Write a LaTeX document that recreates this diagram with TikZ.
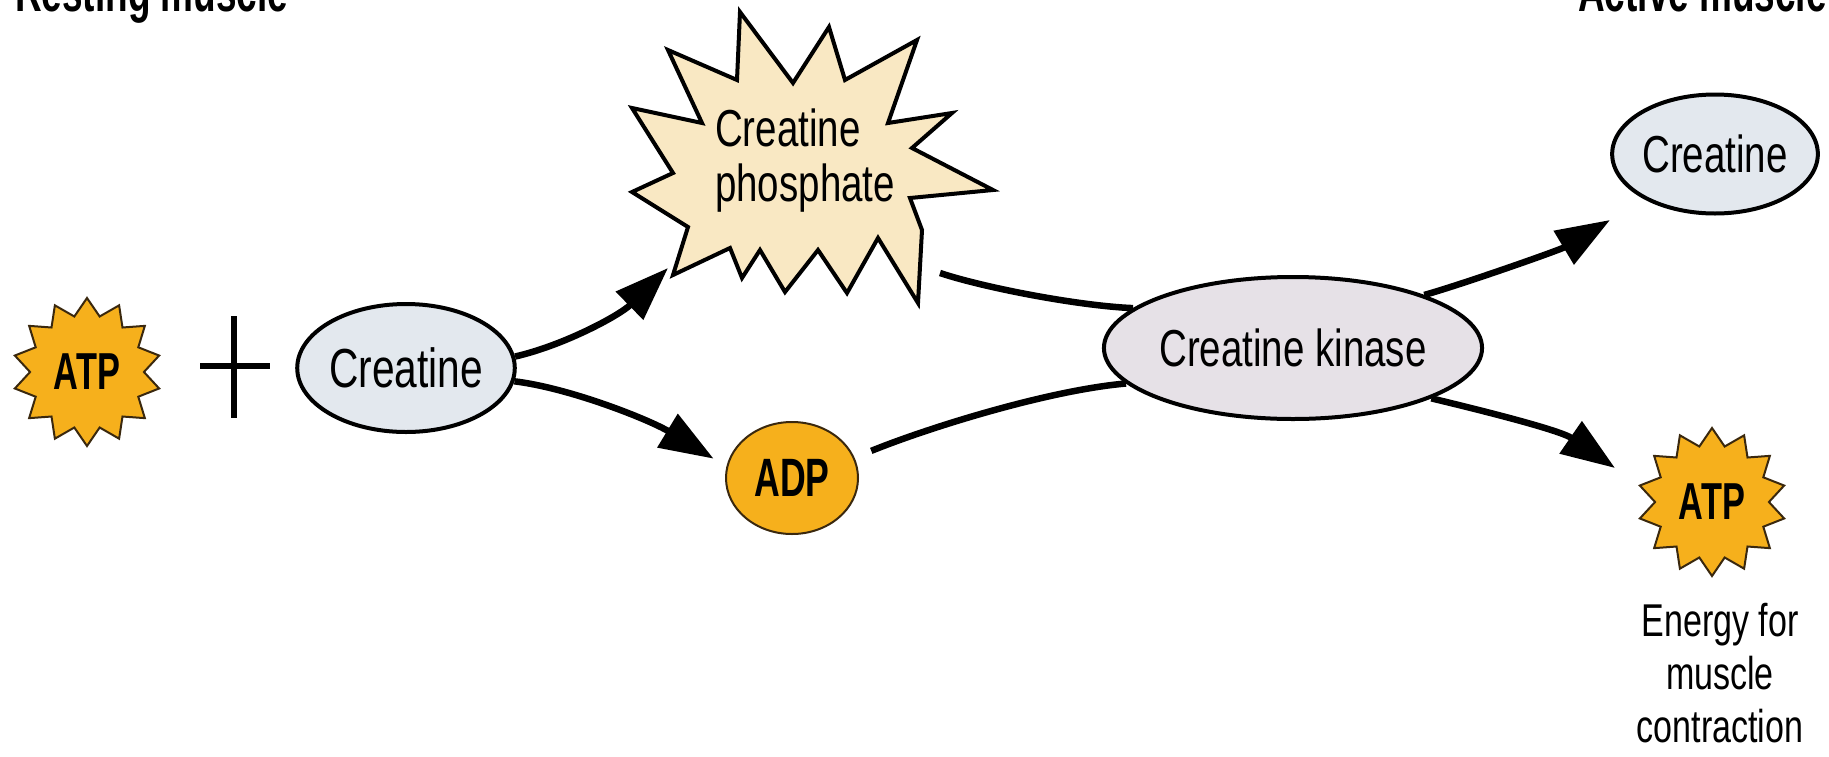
\documentclass[tikz,border=0pt]{standalone}
\usepackage{fontspec}
\usepackage{graphicx}
\setmainfont{Liberation Sans}[FakeStretch=0.74]
\newfontfamily\bfn{Liberation Sans}[FakeStretch=0.66]
\usetikzlibrary{arrows.meta,shapes.geometric}
\definecolor{creafill}{RGB}{227,232,238}
\definecolor{kinfill}{RGB}{230,225,231}
\definecolor{cpfill}{RGB}{249,232,195}
\definecolor{atpfill}{RGB}{246,176,28}
\definecolor{atpline}{RGB}{58,40,14}
\tikzset{
  conn/.style={line width=6.5pt, black},
  arr/.style={conn, -{Triangle[length=54pt,width=38pt]}},
  oval/.style={ellipse, draw, line width=4pt, inner sep=0pt},
  txt/.style={font=\fontsize{52}{56}\selectfont},
  boldtxt/.style={font=\bfn\bfseries\fontsize{54}{58}\selectfont},
  burst/.style={star, star points=14, star point ratio=1.3, minimum size=148pt,
    inner sep=0pt, draw=atpline, line width=2pt, fill=atpfill,
    font=\bfn\bfseries\fontsize{52}{56}\selectfont},
}
\begin{document}
\begin{tikzpicture}[x=1pt,y=-1pt]
\useasboundingbox (0,0) rectangle (1829,756);
\clip (0,0) rectangle (1829,756);
\fill[white] (0,0) rectangle (1829,756);

% titles (cut by the top edge)
\node[anchor=base west, inner sep=0pt, font=\bfn\bfseries\fontsize{56}{60}\selectfont] (rest) at (15,11) {Resting muscle};
\node[anchor=base west, inner sep=0pt, font=\bfn\bfseries\fontsize{56}{60}\selectfont] (act) at (1578,11) {Active muscle};

% creatine phosphate burst
\draw[line width=4pt, fill=cpfill, line join=miter]
  (668,50) -- (737,80) -- (740,12) -- (793,83) -- (829,27) -- (845,80) --
  (917,40) -- (888,123) -- (952,113) -- (912,148) -- (993,190) -- (910,198) --
  (922,230) -- (918,303) -- (878,238) -- (847,293) -- (818,250) -- (785,292) --
  (760,250) -- (742,278) -- (730,248) -- (673,275) -- (688,227) -- (632,192) --
  (673,173) -- (632,108) -- (702,123) -- cycle;
\node[txt, anchor=base west, inner sep=0pt] (cp1) at (715,146) {Creatine};
\node[txt, anchor=base west, inner sep=0pt] (cp2) at (715,201) {phosphate};

% nodes
\node[burst] (atpL) at (87,372) {ATP};
\draw[line width=5.5pt] (200,366) -- (270,366) (234,316) -- (234,418);
\node[oval, fill=creafill, minimum width=202pt, minimum height=128pt, font=\fontsize{55}{60}\selectfont] (creL) at (406,368) {Creatine};
\node[ellipse, draw=atpline, line width=2pt, fill=atpfill, minimum width=132pt, minimum height=112pt, inner sep=0pt, boldtxt] (adp) at (792,478) {ADP};
\node[oval, fill=kinfill, minimum width=318pt, minimum height=142pt, txt] (kin) at (1293,348) {Creatine kinase};
\node[oval, fill=creafill, minimum width=204pt, minimum height=119pt, txt] (creR) at (1715,154) {Creatine};
\node[burst] (atpR) at (1712,502) {ATP};
\node[align=center, anchor=north, inner sep=0pt, font=\fontsize{46}{53}\selectfont] (energy) at (1720,603) {Energy for\\muscle\\contraction};

% free ends
\coordinate (cpIn) at (668,268);
\coordinate (cpOut) at (940,273);
\coordinate (creRIn) at (1610,220);
\coordinate (atpRIn) at (1615,468);

% connectors
\draw[arr] (creL.6) .. controls (565,345) and (620,315) .. (cpIn);
\draw[arr, shorten >=15pt] (creL.-7) .. controls (570,388) and (650,420) .. (adp.170);
\draw[conn, shorten <=18pt] (adp.18) .. controls (930,427) and (1050,390) .. (kin.192);
\draw[conn] (cpOut) .. controls (985,288) and (1080,306) .. (kin.166);
\draw[arr] (kin.22) .. controls (1460,285) and (1560,250) .. (creRIn);
\draw[arr] (kin.-20) .. controls (1480,410) and (1560,430) .. (atpRIn);
\end{tikzpicture}
\end{document}
